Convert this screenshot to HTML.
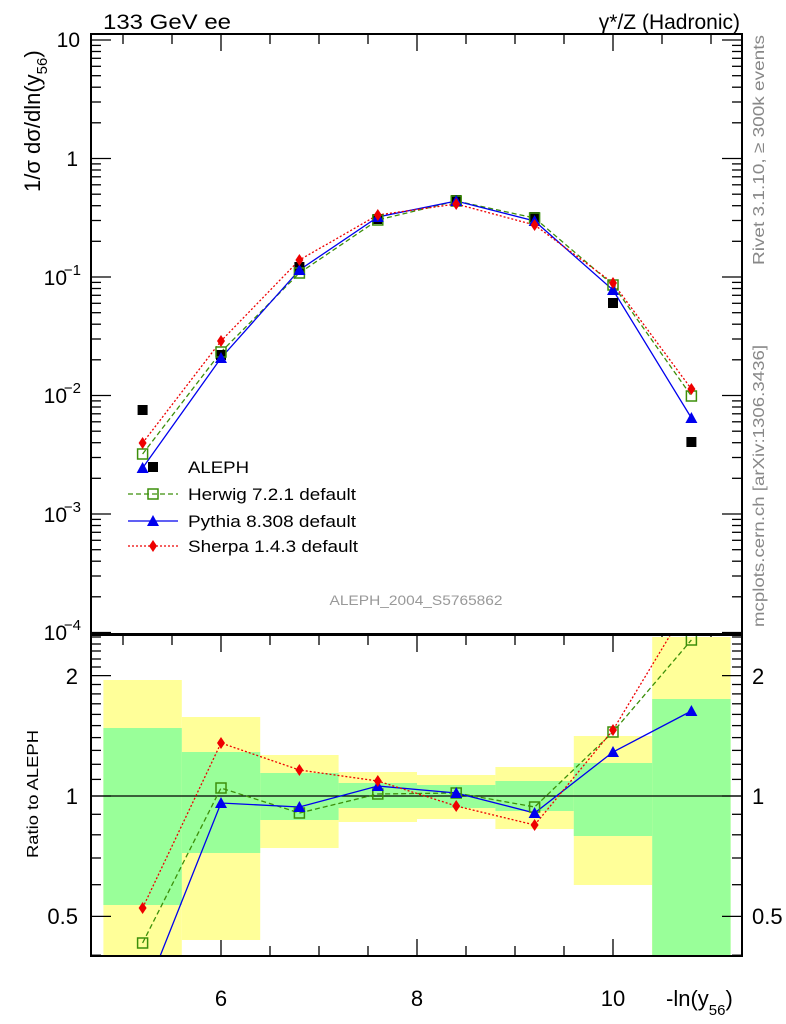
<!DOCTYPE html>
<html><head><meta charset="utf-8"><style>
html,body{margin:0;padding:0;background:#fff;}
svg{display:block;font-family:"Liberation Sans",sans-serif;}
</style></head><body>
<svg width="786" height="1024" viewBox="0 0 786 1024" xmlns="http://www.w3.org/2000/svg" xmlns:xlink="http://www.w3.org/1999/xlink">
<defs>
<clipPath id="cm"><rect x="91" y="34" width="651" height="600"/></clipPath>
<clipPath id="cr"><rect x="91" y="635" width="651" height="321"/></clipPath>
<g id="dec" stroke="#000" stroke-width="1.3">
<line x1="0" y1="0" x2="20" y2="0"/>
<line x1="0" y1="-35.7" x2="10" y2="-35.7"/><line x1="0" y1="-56.5" x2="10" y2="-56.5"/>
<line x1="0" y1="-71.3" x2="10" y2="-71.3"/><line x1="0" y1="-82.8" x2="10" y2="-82.8"/>
<line x1="0" y1="-92.2" x2="10" y2="-92.2"/><line x1="0" y1="-100.2" x2="10" y2="-100.2"/>
<line x1="0" y1="-107" x2="10" y2="-107"/><line x1="0" y1="-113.1" x2="10" y2="-113.1"/>
</g>
<g id="rt" stroke="#000" stroke-width="1.3">
<line x1="0" y1="955.2" x2="10" y2="955.2"/><line x1="0" y1="916.4" x2="20" y2="916.4"/>
<line x1="0" y1="884.7" x2="10" y2="884.7"/><line x1="0" y1="858" x2="10" y2="858"/>
<line x1="0" y1="834.8" x2="10" y2="834.8"/><line x1="0" y1="814.3" x2="10" y2="814.3"/>
<line x1="0" y1="796" x2="20" y2="796"/><line x1="0" y1="779.4" x2="10" y2="779.4"/>
<line x1="0" y1="764.3" x2="10" y2="764.3"/><line x1="0" y1="750.4" x2="10" y2="750.4"/>
<line x1="0" y1="737.6" x2="10" y2="737.6"/><line x1="0" y1="725.6" x2="10" y2="725.6"/>
<line x1="0" y1="714.4" x2="10" y2="714.4"/><line x1="0" y1="703.8" x2="10" y2="703.8"/>
<line x1="0" y1="693.9" x2="10" y2="693.9"/><line x1="0" y1="684.5" x2="10" y2="684.5"/>
<line x1="0" y1="675.6" x2="20" y2="675.6"/><line x1="0" y1="667" x2="10" y2="667"/>
<line x1="0" y1="659" x2="10" y2="659"/><line x1="0" y1="651" x2="10" y2="651"/>
<line x1="0" y1="644" x2="10" y2="644"/><line x1="0" y1="637" x2="10" y2="637"/>
</g>
<rect id="sq" x="-5" y="-5" width="10" height="10" fill="#000"/>
<rect id="hw" x="-5" y="-5" width="10" height="10" fill="none" stroke="#3c8f0a" stroke-width="1.5"/>
<polygon id="py" points="0,-6 6,5 -6,5" fill="#0000ee"/>
<polygon id="sh" points="0,-6 4,0 0,6 -4,0" fill="#ee0000"/>
</defs>

<!-- titles -->
<text x="103" y="29" font-size="21" textLength="128" lengthAdjust="spacingAndGlyphs">133 GeV ee</text>
<text x="740" y="29" font-size="21" text-anchor="end">γ*/Z (Hadronic)</text>
<text transform="translate(764,265) rotate(-90)" font-size="16" fill="#888" textLength="230" lengthAdjust="spacingAndGlyphs">Rivet 3.1.10, ≥ 300k events</text>
<text transform="translate(764,627) rotate(-90)" font-size="16" fill="#888" textLength="282" lengthAdjust="spacingAndGlyphs">mcplots.cern.ch [arXiv:1306.3436]</text>
<text transform="translate(40,192) rotate(-90)" font-size="22">1/σ  dσ/dln(y<tspan font-size="15" dy="7">56</tspan><tspan dy="-7">)</tspan></text>
<text transform="translate(38,858) rotate(-90)" font-size="16" textLength="128" lengthAdjust="spacingAndGlyphs">Ratio to ALEPH</text>

<!-- main y labels -->
<g font-size="21" text-anchor="end">
<text x="80" y="47">10</text>
<text x="78" y="166">1</text>
<text x="67" y="285">10</text><text x="81" y="275" font-size="15">−1</text>
<text x="67" y="403">10</text><text x="81" y="393" font-size="15">−2</text>
<text x="67" y="522">10</text><text x="81" y="512" font-size="15">−3</text>
<text x="67" y="640">10</text><text x="81" y="630" font-size="15">−4</text>
</g>

<!-- main frame ticks -->
<g transform="translate(91,0)">
<use xlink:href="#dec" href="#dec" y="158.5"/><use xlink:href="#dec" href="#dec" y="277"/><use xlink:href="#dec" href="#dec" y="395.5"/><use xlink:href="#dec" href="#dec" y="514"/><use xlink:href="#dec" href="#dec" y="632.5"/>
<line x1="0" y1="40" x2="20" y2="40" stroke="#000" stroke-width="1.3"/>
</g>
<g transform="translate(742,0) scale(-1,1)">
<use xlink:href="#dec" href="#dec" y="158.5"/><use xlink:href="#dec" href="#dec" y="277"/><use xlink:href="#dec" href="#dec" y="395.5"/><use xlink:href="#dec" href="#dec" y="514"/><use xlink:href="#dec" href="#dec" y="632.5"/>
<line x1="0" y1="40" x2="20" y2="40" stroke="#000" stroke-width="1.3"/>
</g>
<!-- x ticks: main top (down), ratio top (down), ratio bottom (up) -->
<path stroke="#000" stroke-width="1.3" fill="none" d="
M123,34v10M172,34v10M221,34v17M270,34v10M319,34v10M368,34v10M417,34v17M466,34v10M515,34v10M564,34v10M613,34v17M662,34v10M711,34v10
M123,635v10M172,635v10M221,635v17M270,635v10M319,635v10M368,635v10M417,635v17M466,635v10M515,635v10M564,635v10M613,635v17M662,635v10M711,635v10
M123,956v-10M172,956v-10M221,956v-17M270,956v-10M319,956v-10M368,956v-10M417,956v-17M466,956v-10M515,956v-10M564,956v-10M613,956v-17M662,956v-10M711,956v-10"/>
<g clip-path="url(#cm)">
<polyline fill="none" stroke="#3c8f0a" stroke-width="1.3" stroke-dasharray="5,3" points="142.6,454 221,352 299.4,273 377.8,220 456.2,201 534.6,218 613,285 691.4,396"/>
<polyline fill="none" stroke="#0000ee" stroke-width="1.3" points="142.6,468 221,358 299.4,270 377.8,217 456.2,201 534.6,221 613,290 691.4,418"/>
<polyline fill="none" stroke="#ee0000" stroke-width="1.3" stroke-dasharray="2,2" points="142.6,443 221,341 299.4,260 377.8,215 456.2,204 534.6,225 613,283 691.4,389"/>
<use href="#sq" x="142.6" y="410"/><use href="#sq" x="221" y="355"/><use href="#sq" x="299.4" y="267"/><use href="#sq" x="377.8" y="219"/><use href="#sq" x="456.2" y="200"/><use href="#sq" x="534.6" y="217"/><use href="#sq" x="613" y="303"/><use href="#sq" x="691.4" y="442"/>
<use href="#hw" x="142.6" y="454"/><use href="#hw" x="221" y="352"/><use href="#hw" x="299.4" y="273"/><use href="#hw" x="377.8" y="220"/><use href="#hw" x="456.2" y="201"/><use href="#hw" x="534.6" y="218"/><use href="#hw" x="613" y="285"/><use href="#hw" x="691.4" y="396"/>
<use href="#py" x="142.6" y="468"/><use href="#py" x="221" y="358"/><use href="#py" x="299.4" y="270"/><use href="#py" x="377.8" y="217"/><use href="#py" x="456.2" y="201"/><use href="#py" x="534.6" y="221"/><use href="#py" x="613" y="290"/><use href="#py" x="691.4" y="418"/>
<use href="#sh" x="142.6" y="443"/><use href="#sh" x="221" y="341"/><use href="#sh" x="299.4" y="260"/><use href="#sh" x="377.8" y="215"/><use href="#sh" x="456.2" y="204"/><use href="#sh" x="534.6" y="225"/><use href="#sh" x="613" y="283"/><use href="#sh" x="691.4" y="389"/>
</g>

<!-- legend -->
<use href="#sq" x="153" y="467"/>
<line x1="128" y1="494" x2="178" y2="494" stroke="#3c8f0a" stroke-width="1.3" stroke-dasharray="5,3"/><use href="#hw" x="153" y="494"/>
<line x1="128" y1="521" x2="178" y2="521" stroke="#0000ee" stroke-width="1.3"/><use href="#py" x="153" y="521"/>
<line x1="128" y1="546" x2="178" y2="546" stroke="#ee0000" stroke-width="1.3" stroke-dasharray="2,2"/><use href="#sh" x="153" y="546"/>
<g font-size="17">
<text x="188" y="473" textLength="61" lengthAdjust="spacingAndGlyphs">ALEPH</text>
<text x="188" y="500" textLength="168" lengthAdjust="spacingAndGlyphs">Herwig 7.2.1 default</text>
<text x="188" y="527" textLength="168" lengthAdjust="spacingAndGlyphs">Pythia 8.308 default</text>
<text x="188" y="552" textLength="170" lengthAdjust="spacingAndGlyphs">Sherpa 1.4.3 default</text>
</g>
<text x="416" y="605" font-size="14" fill="#999" text-anchor="middle" textLength="173" lengthAdjust="spacingAndGlyphs">ALEPH_2004_S5765862</text>

<!-- ratio bands -->
<g clip-path="url(#cr)">
<g fill="#ffff99">
<rect x="103.4" y="680" width="78.4" height="276"/>
<rect x="181.8" y="717" width="78.4" height="223"/>
<rect x="260.2" y="755" width="78.4" height="93"/>
<rect x="338.6" y="772" width="78.4" height="50"/>
<rect x="417" y="775" width="78.4" height="44"/>
<rect x="495.4" y="767" width="78.4" height="62"/>
<rect x="573.8" y="736" width="78.4" height="149"/>
<rect x="652.2" y="637" width="78.4" height="319"/>
</g>
<g fill="#99ff99">
<rect x="103.4" y="728" width="78.4" height="177"/>
<rect x="181.8" y="752" width="78.4" height="101"/>
<rect x="260.2" y="773" width="78.4" height="47"/>
<rect x="338.6" y="783" width="78.4" height="25"/>
<rect x="417" y="785" width="78.4" height="23"/>
<rect x="495.4" y="781" width="78.4" height="30"/>
<rect x="573.8" y="763" width="78.4" height="73"/>
<rect x="652.2" y="699" width="78.4" height="257"/>
</g>
<line x1="91" y1="796" x2="742" y2="796" stroke="#000" stroke-width="1.3"/>
<polyline fill="none" stroke="#3c8f0a" stroke-width="1.3" stroke-dasharray="5,3" points="142.6,943 221,788 299.4,813 377.8,794 456.2,793 534.6,807 613,732 691.4,640"/>
<polyline fill="none" stroke="#0000ee" stroke-width="1.3" points="142.6,1000 221,803 299.4,807 377.8,786 456.2,793 534.6,813 613,752 691.4,711"/>
<polyline fill="none" stroke="#ee0000" stroke-width="1.3" stroke-dasharray="2,2" points="142.6,908 221,743 299.4,770 377.8,781 456.2,806 534.6,825 613,730 691.4,600"/>
<use href="#hw" x="142.6" y="943"/><use href="#hw" x="221" y="788"/><use href="#hw" x="299.4" y="813"/><use href="#hw" x="377.8" y="794"/><use href="#hw" x="456.2" y="793"/><use href="#hw" x="534.6" y="807"/><use href="#hw" x="613" y="732"/><use href="#hw" x="691.4" y="640"/>
<use href="#py" x="221" y="803"/><use href="#py" x="299.4" y="807"/><use href="#py" x="377.8" y="786"/><use href="#py" x="456.2" y="793"/><use href="#py" x="534.6" y="813"/><use href="#py" x="613" y="752"/><use href="#py" x="691.4" y="711"/>
<use href="#sh" x="142.6" y="908"/><use href="#sh" x="221" y="743"/><use href="#sh" x="299.4" y="770"/><use href="#sh" x="377.8" y="781"/><use href="#sh" x="456.2" y="806"/><use href="#sh" x="534.6" y="825"/><use href="#sh" x="613" y="730"/>
</g>

<!-- ratio ticks -->
<g transform="translate(91,0)"><use href="#rt"/></g>
<g transform="translate(742,0) scale(-1,1)"><use href="#rt"/></g>
<g font-size="22">
<text x="78" y="684" text-anchor="end">2</text>
<text x="78" y="804" text-anchor="end">1</text>
<text x="78" y="924" text-anchor="end">0.5</text>
<text x="752" y="684">2</text>
<text x="752" y="804">1</text>
<text x="752" y="924">0.5</text>
<text x="221" y="1006" text-anchor="middle">6</text>
<text x="417" y="1006" text-anchor="middle">8</text>
<text x="613" y="1006" text-anchor="middle">10</text>
<text x="666" y="1006">-ln(y<tspan font-size="15" dy="9">56</tspan><tspan dy="-9">)</tspan></text>
</g>

<!-- frames -->
<rect x="91" y="34" width="651" height="600" fill="none" stroke="#000" stroke-width="2"/>
<rect x="91" y="635" width="651" height="321" fill="none" stroke="#000" stroke-width="2"/>
</svg>
</body></html>
